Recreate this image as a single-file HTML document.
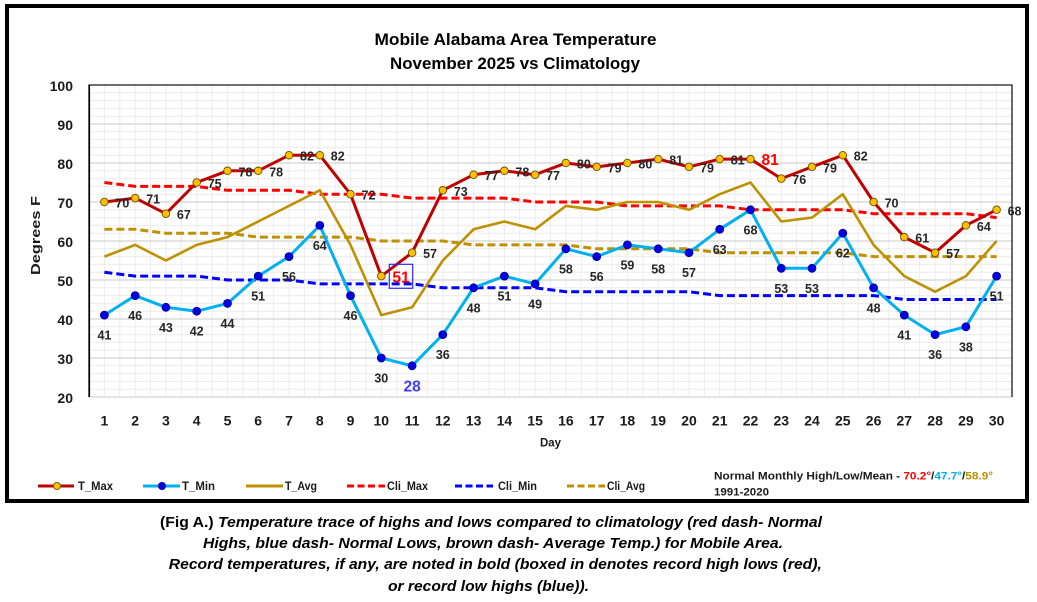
<!DOCTYPE html>
<html><head><meta charset="utf-8"><style>
html,body{margin:0;padding:0;background:#fff;}
svg{display:block;}
text{font-family:"Liberation Sans",Arial,sans-serif;}
</style></head><body>
<svg width="1037" height="602" viewBox="0 0 1037 602" xmlns="http://www.w3.org/2000/svg">
<rect x="0" y="0" width="1037" height="602" fill="#fff"/>
<rect x="7" y="6" width="1020" height="495" fill="#fff" stroke="#000" stroke-width="4"/>

<!-- Title -->
<text x="515.5" y="45" font-size="17" font-weight="bold" text-anchor="middle" textLength="282" lengthAdjust="spacingAndGlyphs" fill="#000">Mobile Alabama Area Temperature</text>
<text x="515" y="69" font-size="17" font-weight="bold" text-anchor="middle" textLength="250" lengthAdjust="spacingAndGlyphs" fill="#000">November 2025 vs Climatology</text>

<!-- Grid -->
<path d="M104.4 85V397M119.8 85V397M135.2 85V397M150.5 85V397M165.9 85V397M181.3 85V397M196.7 85V397M212.1 85V397M227.5 85V397M242.8 85V397M258.2 85V397M273.6 85V397M289 85V397M304.4 85V397M319.8 85V397M335.1 85V397M350.5 85V397M365.9 85V397M381.3 85V397M396.7 85V397M412.1 85V397M427.4 85V397M442.8 85V397M458.2 85V397M473.6 85V397M489 85V397M504.4 85V397M519.7 85V397M535.1 85V397M550.5 85V397M565.9 85V397M581.3 85V397M596.7 85V397M612 85V397M627.4 85V397M642.8 85V397M658.2 85V397M673.6 85V397M689 85V397M704.3 85V397M719.7 85V397M735.1 85V397M750.5 85V397M765.9 85V397M781.3 85V397M796.6 85V397M812 85V397M827.4 85V397M842.8 85V397M858.2 85V397M873.6 85V397M888.9 85V397M904.3 85V397M919.7 85V397M935.1 85V397M950.5 85V397M965.9 85V397M981.2 85V397M996.6 85V397" stroke="#ececec" stroke-width="1" fill="none"/>
<path d="M89 389.2H1012M89 381.4H1012M89 373.6H1012M89 365.8H1012M89 350.2H1012M89 342.4H1012M89 334.6H1012M89 326.8H1012M89 311.2H1012M89 303.4H1012M89 295.6H1012M89 287.8H1012M89 272.2H1012M89 264.4H1012M89 256.6H1012M89 248.8H1012M89 233.2H1012M89 225.4H1012M89 217.6H1012M89 209.8H1012M89 194.2H1012M89 186.4H1012M89 178.6H1012M89 170.8H1012M89 155.2H1012M89 147.4H1012M89 139.6H1012M89 131.8H1012M89 116.2H1012M89 108.4H1012M89 100.6H1012M89 92.8H1012" stroke="#ececec" stroke-width="1" fill="none"/>
<path d="M89 358H1012M89 319H1012M89 280H1012M89 241H1012M89 202H1012M89 163H1012M89 124H1012M89 397H1012" stroke="#d4d4d4" stroke-width="1.2" fill="none"/>
<!-- plot border -->
<path d="M89 397V85H1012V397" stroke="#1a1a1a" stroke-width="1.3" fill="none"/>
<path d="M89.3 85V397" stroke="#000" stroke-width="1.6"/>

<!-- Y axis labels -->
<g font-size="14" font-weight="bold" fill="#1a1a1a" text-anchor="end">
<text x="73" y="91">100</text>
<text x="73" y="130">90</text>
<text x="73" y="169">80</text>
<text x="73" y="208">70</text>
<text x="73" y="247">60</text>
<text x="73" y="286">50</text>
<text x="73" y="325">40</text>
<text x="73" y="364">30</text>
<text x="73" y="403">20</text>
</g>
<text transform="translate(40,235.5) rotate(-90)" font-size="13" font-weight="bold" text-anchor="middle" textLength="79" lengthAdjust="spacingAndGlyphs" fill="#1a1a1a">Degrees F</text>

<!-- X axis labels -->
<g font-size="14" font-weight="bold" fill="#1a1a1a" text-anchor="middle">
<text x="104.4" y="425.5">1</text><text x="135.2" y="425.5">2</text><text x="165.9" y="425.5">3</text><text x="196.7" y="425.5">4</text><text x="227.5" y="425.5">5</text><text x="258.2" y="425.5">6</text><text x="289" y="425.5">7</text><text x="319.8" y="425.5">8</text><text x="350.5" y="425.5">9</text><text x="381.3" y="425.5">10</text><text x="412.1" y="425.5">11</text><text x="442.8" y="425.5">12</text><text x="473.6" y="425.5">13</text><text x="504.4" y="425.5">14</text><text x="535.1" y="425.5">15</text><text x="565.9" y="425.5">16</text><text x="596.7" y="425.5">17</text><text x="627.4" y="425.5">18</text><text x="658.2" y="425.5">19</text><text x="689" y="425.5">20</text><text x="719.7" y="425.5">21</text><text x="750.5" y="425.5">22</text><text x="781.3" y="425.5">23</text><text x="812" y="425.5">24</text><text x="842.8" y="425.5">25</text><text x="873.6" y="425.5">26</text><text x="904.3" y="425.5">27</text><text x="935.1" y="425.5">28</text><text x="965.9" y="425.5">29</text><text x="996.6" y="425.5">30</text>
</g>
<text x="550.5" y="446.5" font-size="12" font-weight="bold" text-anchor="middle" textLength="21" lengthAdjust="spacingAndGlyphs" fill="#1a1a1a">Day</text>

<!-- Climatology dashed lines -->
<g fill="none" stroke-width="3" stroke-dasharray="8 4">
<polyline stroke="#bf9000" points="104.4,229.3 135.2,229.3 165.9,233.2 196.7,233.2 227.5,233.2 258.2,237.1 289,237.1 319.8,237.1 350.5,237.1 381.3,241 412.1,241 442.8,241 473.6,244.9 504.4,244.9 535.1,244.9 565.9,244.9 596.7,248.8 627.4,248.8 658.2,248.8 689,248.8 719.7,252.7 750.5,252.7 781.3,252.7 812,252.7 842.8,252.7 873.6,256.6 904.3,256.6 935.1,256.6 965.9,256.6 996.6,256.6"/>
<polyline stroke="#0000ff" points="104.4,272.2 135.2,276.1 165.9,276.1 196.7,276.1 227.5,280 258.2,280 289,280 319.8,283.9 350.5,283.9 381.3,283.9 412.1,283.9 442.8,287.8 473.6,287.8 504.4,287.8 535.1,287.8 565.9,291.7 596.7,291.7 627.4,291.7 658.2,291.7 689,291.7 719.7,295.6 750.5,295.6 781.3,295.6 812,295.6 842.8,295.6 873.6,295.6 904.3,299.5 935.1,299.5 965.9,299.5 996.6,299.5"/>
<polyline stroke="#ff0000" points="104.4,182.5 135.2,186.4 165.9,186.4 196.7,186.4 227.5,190.3 258.2,190.3 289,190.3 319.8,194.2 350.5,194.2 381.3,194.2 412.1,198.1 442.8,198.1 473.6,198.1 504.4,198.1 535.1,202 565.9,202 596.7,202 627.4,205.9 658.2,205.9 689,205.9 719.7,205.9 750.5,209.8 781.3,209.8 812,209.8 842.8,209.8 873.6,213.7 904.3,213.7 935.1,213.7 965.9,213.7 996.6,217.6"/>
</g>

<!-- T_Avg -->
<polyline fill="none" stroke="#bf9000" stroke-width="2.6" stroke-linejoin="round" points="104.4,256.6 135.2,244.9 165.9,260.5 196.7,244.9 227.5,237.1 258.2,221.5 289,205.9 319.8,190.3 350.5,244.9 381.3,315.1 412.1,307.3 442.8,260.5 473.6,229.3 504.4,221.5 535.1,229.3 565.9,205.9 596.7,209.8 627.4,202 658.2,202 689,209.8 719.7,194.2 750.5,182.5 781.3,221.5 812,217.6 842.8,194.2 873.6,244.9 904.3,276.1 935.1,291.7 965.9,276.1 996.6,241"/>

<!-- T_Min -->
<polyline fill="none" stroke="#00b0f0" stroke-width="3" stroke-linejoin="round" points="104.4,315.1 135.2,295.6 165.9,307.3 196.7,311.2 227.5,303.4 258.2,276.1 289,256.6 319.8,225.4 350.5,295.6 381.3,358 412.1,365.8 442.8,334.6 473.6,287.8 504.4,276.1 535.1,283.9 565.9,248.8 596.7,256.6 627.4,244.9 658.2,248.8 689,252.7 719.7,229.3 750.5,209.8 781.3,268.3 812,268.3 842.8,233.2 873.6,287.8 904.3,315.1 935.1,334.6 965.9,326.8 996.6,276.1"/>

<!-- T_Max -->
<polyline fill="none" stroke="#c00000" stroke-width="3" stroke-linejoin="round" points="104.4,202 135.2,198.1 165.9,213.7 196.7,182.5 227.5,170.8 258.2,170.8 289,155.2 319.8,155.2 350.5,194.2 381.3,276.1 412.1,252.7 442.8,190.3 473.6,174.7 504.4,170.8 535.1,174.7 565.9,163 596.7,166.9 627.4,163 658.2,159.1 689,166.9 719.7,159.1 750.5,159.1 781.3,178.6 812,166.9 842.8,155.2 873.6,202 904.3,237.1 935.1,252.7 965.9,225.4 996.6,209.8"/>

<!-- T_Min markers -->
<g fill="#0000e6" stroke="#00008b" stroke-width="0.8">
<circle cx="104.4" cy="315.1" r="4"/><circle cx="135.2" cy="295.6" r="4"/><circle cx="165.9" cy="307.3" r="4"/><circle cx="196.7" cy="311.2" r="4"/><circle cx="227.5" cy="303.4" r="4"/><circle cx="258.2" cy="276.1" r="4"/><circle cx="289" cy="256.6" r="4"/><circle cx="319.8" cy="225.4" r="4"/><circle cx="350.5" cy="295.6" r="4"/><circle cx="381.3" cy="358" r="4"/><circle cx="412.1" cy="365.8" r="4"/><circle cx="442.8" cy="334.6" r="4"/><circle cx="473.6" cy="287.8" r="4"/><circle cx="504.4" cy="276.1" r="4"/><circle cx="535.1" cy="283.9" r="4"/><circle cx="565.9" cy="248.8" r="4"/><circle cx="596.7" cy="256.6" r="4"/><circle cx="627.4" cy="244.9" r="4"/><circle cx="658.2" cy="248.8" r="4"/><circle cx="689" cy="252.7" r="4"/><circle cx="719.7" cy="229.3" r="4"/><circle cx="750.5" cy="209.8" r="4"/><circle cx="781.3" cy="268.3" r="4"/><circle cx="812" cy="268.3" r="4"/><circle cx="842.8" cy="233.2" r="4"/><circle cx="873.6" cy="287.8" r="4"/><circle cx="904.3" cy="315.1" r="4"/><circle cx="935.1" cy="334.6" r="4"/><circle cx="965.9" cy="326.8" r="4"/><circle cx="996.6" cy="276.1" r="4"/>
</g>

<!-- T_Max markers -->
<g fill="#ffc000" stroke="#6b5000" stroke-width="0.9">
<circle cx="104.4" cy="202" r="3.8"/><circle cx="135.2" cy="198.1" r="3.8"/><circle cx="165.9" cy="213.7" r="3.8"/><circle cx="196.7" cy="182.5" r="3.8"/><circle cx="227.5" cy="170.8" r="3.8"/><circle cx="258.2" cy="170.8" r="3.8"/><circle cx="289" cy="155.2" r="3.8"/><circle cx="319.8" cy="155.2" r="3.8"/><circle cx="350.5" cy="194.2" r="3.8"/><circle cx="381.3" cy="276.1" r="3.8"/><circle cx="412.1" cy="252.7" r="3.8"/><circle cx="442.8" cy="190.3" r="3.8"/><circle cx="473.6" cy="174.7" r="3.8"/><circle cx="504.4" cy="170.8" r="3.8"/><circle cx="535.1" cy="174.7" r="3.8"/><circle cx="565.9" cy="163" r="3.8"/><circle cx="596.7" cy="166.9" r="3.8"/><circle cx="627.4" cy="163" r="3.8"/><circle cx="658.2" cy="159.1" r="3.8"/><circle cx="689" cy="166.9" r="3.8"/><circle cx="719.7" cy="159.1" r="3.8"/><circle cx="750.5" cy="159.1" r="3.8"/><circle cx="781.3" cy="178.6" r="3.8"/><circle cx="812" cy="166.9" r="3.8"/><circle cx="842.8" cy="155.2" r="3.8"/><circle cx="873.6" cy="202" r="3.8"/><circle cx="904.3" cy="237.1" r="3.8"/><circle cx="935.1" cy="252.7" r="3.8"/><circle cx="965.9" cy="225.4" r="3.8"/><circle cx="996.6" cy="209.8" r="3.8"/>
</g>

<!-- T_Max labels -->
<g font-size="12.5" font-weight="bold" fill="#262626">
<text x="115.4" y="207.5">70</text><text x="146.2" y="203.6">71</text><text x="176.9" y="219.2">67</text><text x="207.7" y="188">75</text><text x="238.5" y="176.3">78</text><text x="269.2" y="176.3">78</text><text x="300" y="160.7">82</text><text x="330.8" y="160.7">82</text><text x="361.5" y="199.7">72</text><text x="423.1" y="258.2">57</text><text x="453.8" y="195.8">73</text><text x="484.6" y="180.2">77</text><text x="515.4" y="176.3">78</text><text x="546.1" y="180.2">77</text><text x="576.9" y="168.5">80</text><text x="607.7" y="172.4">79</text><text x="638.4" y="168.5">80</text><text x="669.2" y="164.6">81</text><text x="700" y="172.4">79</text><text x="730.7" y="164.6">81</text><text x="792.3" y="184.1">76</text><text x="823" y="172.4">79</text><text x="853.8" y="160.7">82</text><text x="884.6" y="207.5">70</text><text x="915.3" y="242.6">61</text><text x="946.1" y="258.2">57</text><text x="976.9" y="230.9">64</text><text x="1007.6" y="215.3">68</text>
</g>
<text x="761.5" y="165" font-size="15.5" font-weight="bold" fill="#ff0000">81</text>
<rect x="389.3" y="264.3" width="23.4" height="24" fill="none" stroke="#2b2bff" stroke-width="1.2"/>
<text x="401" y="282.5" font-size="15.5" font-weight="bold" fill="#ff0000" text-anchor="middle">51</text>

<!-- T_Min labels -->
<g font-size="12.5" font-weight="bold" fill="#262626" text-anchor="middle">
<text x="104.4" y="339.6">41</text><text x="135.2" y="320.1">46</text><text x="165.9" y="331.8">43</text><text x="196.7" y="335.7">42</text><text x="227.5" y="327.9">44</text><text x="258.2" y="300.6">51</text><text x="289" y="281.1">56</text><text x="319.8" y="249.9">64</text><text x="350.5" y="320.1">46</text><text x="381.3" y="382.5">30</text><text x="442.8" y="359.1">36</text><text x="473.6" y="312.3">48</text><text x="504.4" y="300.6">51</text><text x="535.1" y="308.4">49</text><text x="565.9" y="273.3">58</text><text x="596.7" y="281.1">56</text><text x="627.4" y="269.4">59</text><text x="658.2" y="273.3">58</text><text x="689" y="277.2">57</text><text x="719.7" y="253.8">63</text><text x="750.5" y="234.3">68</text><text x="781.3" y="292.8">53</text><text x="812" y="292.8">53</text><text x="842.8" y="257.7">62</text><text x="873.6" y="312.3">48</text><text x="904.3" y="339.6">41</text><text x="935.1" y="359.1">36</text><text x="965.9" y="351.3">38</text><text x="996.6" y="300.6">51</text>
</g>
<text x="412.1" y="391.7" font-size="15.5" font-weight="bold" fill="#4040ff" text-anchor="middle">28</text>

<!-- Legend -->
<line x1="38" y1="486" x2="74" y2="486" stroke="#c00000" stroke-width="3"/>
<circle cx="57" cy="486" r="3.6" fill="#ffc000" stroke="#6b5000" stroke-width="0.9"/>
<line x1="143" y1="486" x2="180" y2="486" stroke="#00b0f0" stroke-width="3"/>
<circle cx="162" cy="486" r="3.6" fill="#0000e6" stroke="#00008b" stroke-width="0.8"/>
<line x1="246" y1="486" x2="283" y2="486" stroke="#bf9000" stroke-width="3"/>
<line x1="347" y1="486" x2="385" y2="486" stroke="#ff0000" stroke-width="3" stroke-dasharray="7 3.5"/>
<line x1="455" y1="486" x2="493" y2="486" stroke="#0000ff" stroke-width="3" stroke-dasharray="7 3.5"/>
<line x1="567" y1="486" x2="605" y2="486" stroke="#bf9000" stroke-width="3" stroke-dasharray="7 3.5"/>
<g font-size="11.5" font-weight="bold" fill="#1a1a1a">
<text x="78" y="490" textLength="35" lengthAdjust="spacingAndGlyphs">T_Max</text>
<text x="182" y="490" textLength="33" lengthAdjust="spacingAndGlyphs">T_Min</text>
<text x="285" y="490" textLength="32" lengthAdjust="spacingAndGlyphs">T_Avg</text>
<text x="387" y="490" textLength="41" lengthAdjust="spacingAndGlyphs">Cli_Max</text>
<text x="498" y="490" textLength="39" lengthAdjust="spacingAndGlyphs">Cli_Min</text>
<text x="607" y="490" textLength="38" lengthAdjust="spacingAndGlyphs">Cli_Avg</text>
</g>
<text x="714" y="479.5" font-size="11" font-weight="bold" fill="#1a1a1a" textLength="279" lengthAdjust="spacingAndGlyphs">Normal Monthly High/Low/Mean - <tspan fill="#ff0000">70.2°</tspan>/<tspan fill="#00b0f0">47.7°</tspan>/<tspan fill="#bf9000">58.9°</tspan></text>
<text x="714" y="495.5" font-size="11" font-weight="bold" fill="#1a1a1a" textLength="55" lengthAdjust="spacingAndGlyphs">1991-2020</text>

<!-- Caption -->
<g font-size="14.5" font-weight="bold" fill="#000" text-anchor="middle">
<text x="491" y="527" textLength="662" lengthAdjust="spacingAndGlyphs">(Fig A.) <tspan font-style="italic">Temperature trace of highs and lows compared to climatology (red dash- Normal</tspan></text>
<text x="493" y="548" font-style="italic" textLength="580" lengthAdjust="spacingAndGlyphs">Highs, blue dash- Normal Lows, brown dash- Average Temp.) for Mobile Area.</text>
<text x="495.3" y="569" font-style="italic" textLength="653" lengthAdjust="spacingAndGlyphs">Record temperatures, if any, are noted in bold (boxed in denotes record high lows (red),</text>
<text x="488.5" y="591" font-style="italic" textLength="201" lengthAdjust="spacingAndGlyphs">or record low highs (blue)).</text>
</g>
</svg>
</body></html>
